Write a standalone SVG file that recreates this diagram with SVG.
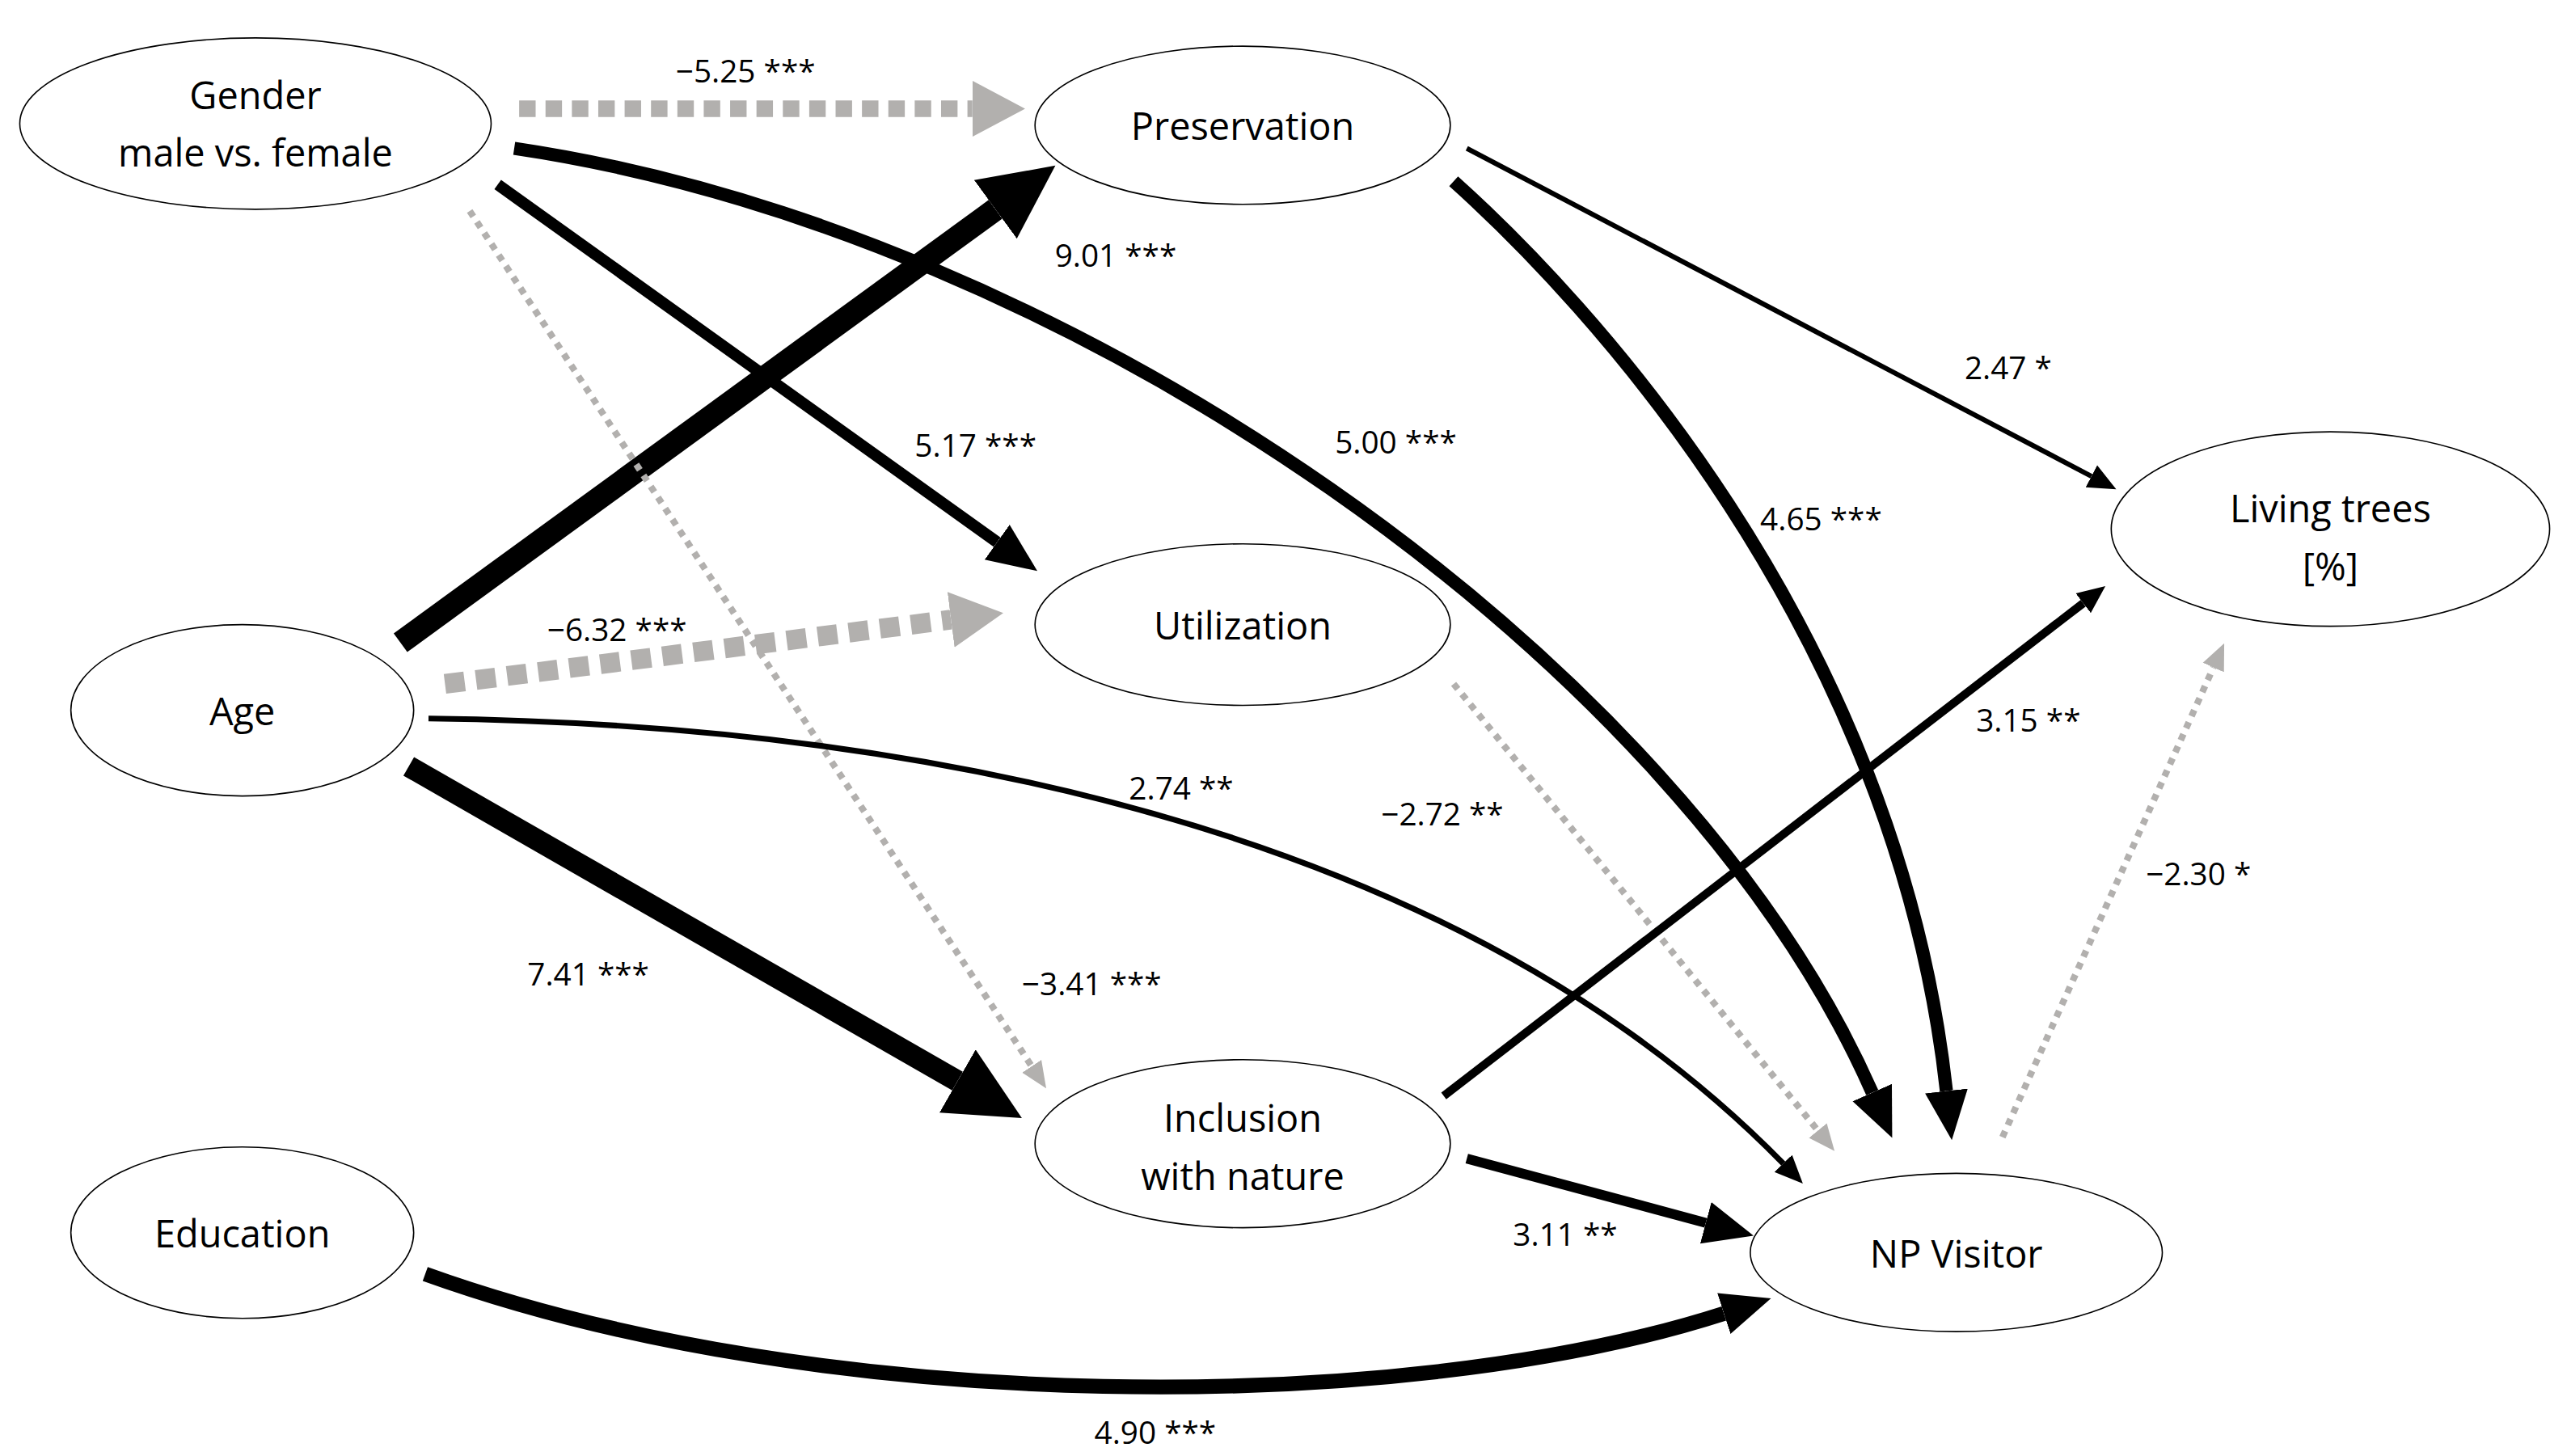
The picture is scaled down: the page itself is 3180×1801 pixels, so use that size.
<svg xmlns="http://www.w3.org/2000/svg" width="3180" height="1801" viewBox="0 0 3180 1801">
<style>
.node ellipse{fill:#fff;stroke:#000;stroke-width:0.8}
.node text{font-family:"Open Sans","Noto Sans",sans-serif;font-size:23px;text-anchor:middle;fill:#000}
.lbl{font-family:"Open Sans","Noto Sans",sans-serif;font-size:19px;fill:#000}
.e{fill:none;stroke:#000}
.g{fill:none;stroke:#b2b0ae}
</style>
<defs>
<marker id="kb" markerUnits="userSpaceOnUse" markerWidth="50" markerHeight="50" refX="0" refY="25" orient="auto" viewBox="0 0 50 50"><path d="M0,3 L45,25 L0,47z" fill="#000"/></marker>
<marker id="km" markerUnits="userSpaceOnUse" markerWidth="32" markerHeight="32" refX="0" refY="16" orient="auto" viewBox="0 0 32 32"><path d="M0,3 L30,16 L0,29z" fill="#000"/></marker>
<marker id="ks" markerUnits="userSpaceOnUse" markerWidth="18" markerHeight="18" refX="0" refY="9" orient="auto" viewBox="0 0 18 18"><path d="M0,1.5 L17,9 L0,16.5z" fill="#000"/></marker>
<marker id="gb" markerUnits="userSpaceOnUse" markerWidth="36" markerHeight="36" refX="0" refY="18" orient="auto" viewBox="0 0 36 36"><path d="M0,1 L32,18 L0,35z" fill="#b2b0ae"/></marker>
<marker id="gs" markerUnits="userSpaceOnUse" markerWidth="18" markerHeight="18" refX="0" refY="9" orient="auto" viewBox="0 0 18 18"><path d="M0,2 L16,9 L0,16z" fill="#b2b0ae"/></marker>
</defs>
<rect width="3180" height="1801" fill="#fff"/>
<g transform="scale(2.0385)">
<g id="connectors">
<path class="g" d="M315,66 L590,66" stroke-width="10" stroke-dasharray="10 6" marker-end="url(#gb)"/>
<path class="e" d="M243,390 L604,127" stroke-width="14" marker-end="url(#kb)"/>
<path class="e" d="M302,112 L605,329" stroke-width="7" marker-end="url(#km)"/>
<path class="g" d="M270,415 L577,376" stroke-width="12" stroke-dasharray="12 7" marker-end="url(#gb)"/>
<path class="g" d="M285,128 L626,647" stroke-width="4" stroke-dasharray="4 4" marker-end="url(#gs)"/>
<path class="e" d="M248,465 L581,656" stroke-width="13" marker-end="url(#kb)"/>
<path class="e" d="M312,90 C650,140 1020,400 1136,663" stroke-width="8" marker-end="url(#km)"/>
<path class="e" d="M882,110 C960,180 1150,380 1181,662" stroke-width="8" marker-end="url(#km)"/>
<path class="e" d="M260,436 C600,440 900,520 1082,706" stroke-width="3.5" marker-end="url(#ks)"/>
<path class="e" d="M258,773 C500,860 850,860 1046,797" stroke-width="9" marker-end="url(#km)"/>
<path class="e" d="M890,90 L1269,289" stroke-width="3" marker-end="url(#ks)"/>
<path class="g" d="M882,415 L1103,686" stroke-width="4" stroke-dasharray="4 4" marker-end="url(#gs)"/>
<path class="e" d="M876,665 L1264,366" stroke-width="5" marker-end="url(#ks)"/>
<path class="e" d="M890,703 L1035,742" stroke-width="6" marker-end="url(#km)"/>
<path class="g" d="M1215,690 L1343,405" stroke-width="4" stroke-dasharray="4 4" marker-end="url(#gs)"/>
</g>
<g id="labels" class="lbl">
<text x="410" y="50">−5.25 ***</text>
<text x="640" y="162">9.01 ***</text>
<text x="555" y="277">5.17 ***</text>
<text x="810" y="275">5.00 ***</text>
<text x="1192" y="230">2.47 *</text>
<text x="1068" y="322">4.65 ***</text>
<text x="332" y="389">−6.32 ***</text>
<text x="1199" y="444">3.15 **</text>
<text x="685" y="485">2.74 **</text>
<text x="838" y="501">−2.72 **</text>
<text x="1302" y="537">−2.30 *</text>
<text x="320" y="598">7.41 ***</text>
<text x="620" y="604">−3.41 ***</text>
<text x="918" y="756">3.11 **</text>
<text x="664" y="876">4.90 ***</text>
</g>
<g id="gender" class="node"><ellipse cx="155" cy="75" rx="143" ry="52"/><text x="155" y="66">Gender</text><text x="155" y="101">male vs. female</text></g>
<g id="preservation" class="node"><ellipse cx="754" cy="76" rx="126" ry="48"/><text x="754" y="85">Preservation</text></g>
<g id="utilization" class="node"><ellipse cx="754" cy="379" rx="126" ry="49"/><text x="754" y="388">Utilization</text></g>
<g id="age" class="node"><ellipse cx="147" cy="431" rx="104" ry="52"/><text x="147" y="440">Age</text></g>
<g id="inclusion" class="node"><ellipse cx="754" cy="694" rx="126" ry="51"/><text x="754" y="687">Inclusion</text><text x="754" y="722">with nature</text></g>
<g id="education" class="node"><ellipse cx="147" cy="748" rx="104" ry="52"/><text x="147" y="757">Education</text></g>
<g id="npvisitor" class="node"><ellipse cx="1187" cy="760" rx="125" ry="48"/><text x="1187" y="769">NP Visitor</text></g>
<g id="livingtrees" class="node"><ellipse cx="1414" cy="321" rx="133" ry="59"/><text x="1414" y="317">Living trees</text><text x="1414" y="352">[%]</text></g>
</g>
</svg>
